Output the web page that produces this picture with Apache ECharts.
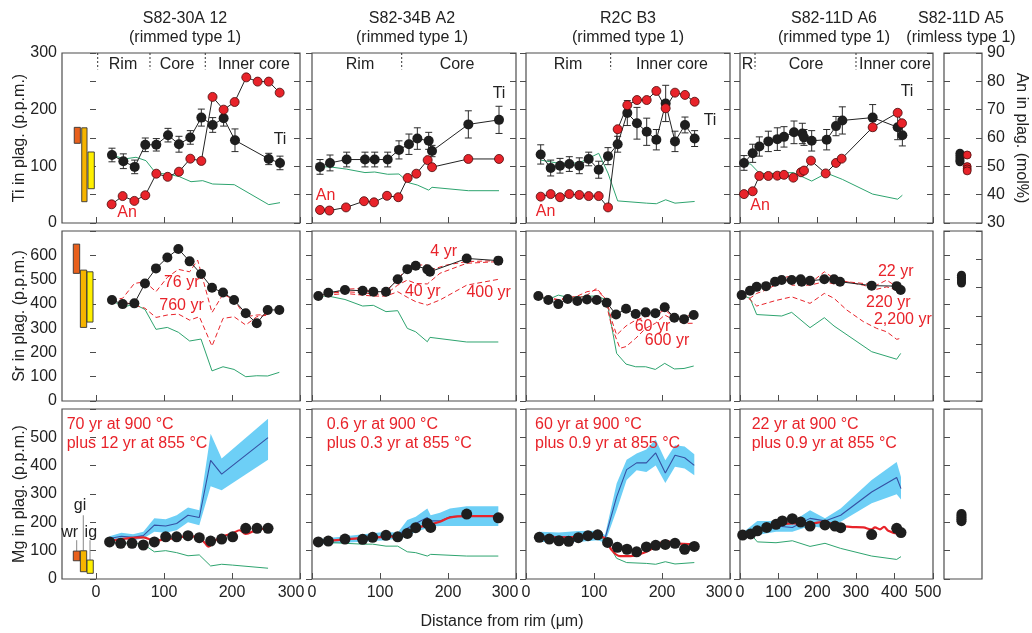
<!DOCTYPE html>
<html><head><meta charset="utf-8">
<script src="https://cdn.jsdelivr.net/npm/echarts@6/dist/echarts.min.js"></script>
<style>html,body{margin:0;padding:0;background:#fff}#c{width:1032px;height:633px}</style>
</head><body><div id="c"></div>
<script>
// ---------------- DATA ----------------
// Column 1: S82-30A 12
const p1Ti = [[23.5,120],[40.2,109],[56.9,99],[72.5,138],[88.7,138],[105.9,155],[122,139],[138.7,151],[154.9,186],[171.6,173],[187.7,185],[204.4,146],[254,113],[270.6,106]];
const p1TiErr = [12,13,12,12,11,12,14,12,15,13,14,20,10,12];
const p1An = [[23,36.6],[39.2,39.5],[56.4,37.8],[72.5,39.8],[88.7,47.4],[105.4,46.3],[122,48.1],[138.7,52.7],[154.9,51.9],[171.4,74.5],[187.7,70],[203.9,72.7],[221,81.4],[237.7,79.9],[254,79.9],[270.1,76]];
const p1TiEq = [[23.5,120],[41.7,113],[58.8,116],[73.5,110],[88.2,87.6],[105.4,86.5],[122.5,81.8],[139.7,72.9],[156.9,74.7],[171.6,68.8],[203.4,67.6],[254,32.4],[270.6,35.9]];
const p1Sr = [[23.5,416],[39.2,399],[56.4,402],[72,484],[88.2,546],[104.9,591],[121.1,626],[137.7,575],[154.4,523],[170.6,466],[186.8,447],[203,416],[220.2,361],[236.4,320],[252.5,375],[269.6,375]];
const p1SrErr = [5,5,5,8,10,8,6,8,6,6,6,6,6,6,6,6];
const p1SrEq = [[23.5,416],[39.2,386],[56.4,399],[72,377],[88.2,295],[104.9,303],[121.1,283],[137.7,247],[154.4,255],[170.6,124],[186.8,141],[203,130],[220.2,100],[236.4,104],[252.5,103],[269.6,118]];
const p1Sr76 = [[23,416],[39.2,423],[56.4,484],[72,491],[88.2,450],[104.9,509],[121.1,542],[137.7,532],[149.5,580],[170.6,364],[186.8,440],[203,416],[220.2,347],[236.4,354],[252.5,356]];
const p1Sr760 = [[23,416],[39.2,409],[56.4,395],[72,382],[88.2,344],[104.9,354],[121.1,358],[137.7,333],[152,347],[170.6,226],[186.8,340],[203,347],[220.2,313],[236.4,347],[252.5,354]];
const p1Mg = [[20,131],[36.3,126],[53,126],[69.6,120],[85.8,131],[102.5,149],[118.6,149],[135.3,153],[151.9,146],[168.6,134],[184.8,141],[201,149],[220.2,179],[236.8,179],[253,179]];
const p1MgFit = [[20,135],[53,145],[69.6,147],[85.8,135],[102.5,140],[118.6,145],[135.3,151],[151.9,145],[159.8,128],[165.7,114],[172.5,131],[184.8,149],[201,161],[211.3,172],[220,159],[236.8,174],[253,179]];
const p1MgX = [20,37.3,54.4,69.6,85.8,102.5,118.6,135.3,151.9,168.6,184.8,253];
const p1MgBlue = [143,151,147,153,190,187,196,225,217,419,370,499];
const p1MgUp = [151,163,158,167,214,211,225,252,243,513,425,566];
const p1MgLo = [135,141,137,143,167,163,172,200,190,327,313,421];
const p1MgEq = [[20,131],[36.3,128],[53,126],[69.6,123],[85.8,96],[102.5,100],[118.6,93],[135.3,82],[151.9,85],[168.6,46],[184.8,52],[201,49],[253,38]];
const p1Dividers = [2.5, 79.4, 160.7];
// crystal-size bars (x0, x1, low, high)
const barTi = [[-32,-23,140.6,168.8],[-21,-13.2,37.6,168],[-11.8,-2.5,60.5,125.3]];
const barSr = [[-33.4,-24,525.5,646],[-23,-13.7,303,539],[-13.2,-4.4,325,532]];
const barMg = [[-33.4,-23.5,64.4,98.6],[-23,-13.7,25.7,99.7],[-13.2,-4,20,66.9]];
const barColors = ['#e8601c','#f6b400','#fff000'];
const barLeaders = [[[-28.4,98],[-28.4,137]],[[-18.7,100],[-18.7,225]],[[-8.8,67],[-8.8,137]]];

// Column 2: S82-34B A2
const p2Ti = [[11.8,99],[26.5,106],[51,112],[77.9,112],[92.2,112],[111.3,112],[127.9,129],[142.6,139],[154.9,149],[171.6,145],[176.5,127],[229.9,174],[275,182]];
const p2TiErr = [13,14,13,13,13,13,16,18,19,15,10,24,24];
const p2An = [[11.8,34.6],[25.5,34.4],[50,35.5],[76.5,37.7],[91.2,37.3],[110.3,39.6],[126.9,39.1],[140.7,45.9],[153.4,47.4],[170.1,52.2],[176.5,49.7],[229.9,52.6],[275,52.6]];
const p2TiEq = [[11.8,99],[26.5,99],[51,95],[77.9,89],[92.2,90],[111.3,86],[127.9,86.5],[142.6,71],[154.9,67],[171.6,58],[176.5,63],[229.9,57],[275,57]];
const p2Sr = [[9.3,432],[24,446],[48.5,457],[74.5,454],[90.2,450],[108.8,450],[126,501],[140.2,543],[152.5,557],[169.6,542],[173.5,532],[227.5,587],[274,578]];
const p2SrErr = [8,8,8,8,8,8,10,12,12,12,12,12,14];
const p2SrEq = [[9.3,432],[24,432],[48.5,418],[74.5,391],[90.2,394],[108.8,368],[126,372],[140.2,299],[152.5,285],[169.6,244],[173.5,262],[227.5,243],[274,243]];
const p2Sr4 = [[9.3,432],[24,440],[48.5,460],[74.5,464],[90.2,446],[108.8,454],[126,498],[140.2,553],[152.5,560],[169.6,560],[173.5,539],[198,560],[227.5,574],[274,578]];
const p2Sr40 = [[9.3,432],[24,443],[48.5,450],[74.5,446],[90.2,440],[108.8,440],[126,477],[140.2,498],[152.5,484],[169.6,482],[188.2,526],[227.5,567],[274,574]];
const p2Sr400 = [[9.3,432],[24,436],[48.5,443],[74.5,436],[90.2,432],[108.8,432],[126,450],[140.2,427],[152.5,409],[169.6,395],[188.2,416],[227.5,477],[274,501]];
const p2Mg = [[9.3,131],[24,134],[48.5,141],[74.5,140],[89.2,147],[108.8,154],[126,149],[140.2,161],[152.5,181],[169.6,196],[174.5,182],[227.5,229],[274,216]];
const p2MgFit = [[9.3,131],[48.5,140],[108.8,149],[126,151],[140.2,161],[152.5,179],[169.6,190],[188.2,202],[202.9,217],[227.5,222],[274,222]];
const p2MgX = [9.3,48.5,108.8,126,140.2,152.5,169.6,174.5,188.2,202.9,227.5,274];
const p2MgBlue = [131,140,151,155,179,196,217,205,205,220,222,222];
const p2MgUp = [140,151,167,163,208,220,249,225,234,249,257,257];
const p2MgLo = [123,128,137,143,149,167,179,184,187,187,187,187];
const p2MgEq = [[9.3,131],[48.5,126],[74.5,123],[89.2,123],[108.8,116],[126,116],[140.2,96],[152.5,93],[169.6,81],[174.5,87],[227.5,81],[274,81]];
const p2Dividers = [131.9];

// Column 3: R2C B3
const p3X = [21.6,36.3,50,63.7,78.4,92.2,106.9,120.6,134.8,149,163.2,177.5,191.7,205.4,219.1,233.8,248];
const p3TiV = [121,97,101,104,101,113,94,118,139,194,176,161,147,211,144,173,149];
const p3TiErr = [17,14,13,13,14,12,15,15,14,22,28,24,18,32,18,14,14];
const p3AnV = [39.3,40.2,39.1,40.2,39.9,39.5,39.5,35.5,63.1,71.6,73.4,73.4,76.6,70.5,76,75.2,72.8];
const p3TiEq = [[21.6,111],[50,105],[78.4,106],[106.9,123],[120.6,88],[134.8,39],[177.5,35],[191.7,34],[205.4,41],[219.1,35],[248,38]];
const p3SrX = [18.1,32.8,47.5,61.3,75.5,89.7,104,118.6,132.4,147.1,161.3,176,190.2,204,218.1,232.4,246.6];
const p3SrV = [432,416,399,420,412,418,416,405,356,380,358,365,361,386,343,337,354];
const p3SrErr = [10,6,8,6,6,6,6,10,10,6,6,6,8,12,6,6,6];
const p3SrEq = [[18.1,432],[32.8,418],[47.5,436],[61.3,427],[75.5,427],[89.7,432],[104,432],[118.6,416],[126,306],[133.3,196],[147.1,152],[161.3,141],[176,141],[190.2,130],[204,155],[218.1,132],[232.4,134],[246.6,144]];
const p3Sr60 = [[18.1,432],[47.5,418],[75.5,432],[89.7,450],[104,457],[118.6,416],[126,333],[133.3,272],[147.1,309],[161.3,333],[176,347],[190.2,354],[204,375],[218.1,344],[246.6,354]];
const p3Sr600 = [[18.1,432],[47.5,416],[75.5,423],[89.7,436],[104,464],[116.2,423],[126,306],[138.2,217],[147.1,224],[161.3,258],[176,299],[190.2,320],[204,354],[218.1,333],[232.4,320],[246.6,320]];
const p3MgPtX = [19.6,34.3,48.5,62.7,77,91.2,105.4,120,134.3,148.5,162.7,177,190.7,204.9,219.1,233.3,247.5];
const p3MgPtV = [147,141,135,133,146,153,156,129,112,105,96,113,119,122,126,105,115];
const p3MgFit = [[19.6,149],[48.5,147],[77,149],[105.4,151],[116.2,143],[126,102],[138.2,81],[153,81],[177,96],[190.7,115],[204.9,135],[219.1,126],[247.5,123]];
const p3MgX = [19.6,48.5,77,105.4,116.2,133.3,148,162.7,177,190.7,204.9,219.1,233.3,247.5];
const p3MgBlue = [151,149,151,155,143,290,386,410,410,445,374,437,428,401];
const p3MgUp = [167,164,169,170,155,337,421,443,457,492,419,472,468,440];
const p3MgLo = [131,131,131,137,128,243,349,384,378,401,339,396,390,366];
const p3MgEq = [[19.6,149],[48.5,147],[77,149],[105.4,149],[117.6,137],[133.3,73],[148,58],[177,55],[190.7,52],[204.9,61],[219.1,53],[247.5,58]];
const p3Dividers = [124.5];

// Column 4: S82-11D A6
const p4X = [10.4,32.8,50.1,73.4,96.7,114,139.9,161.5,165.8,185.7,224.5,248.7,265.1,343.7,408.5,420.6];
const p4TiV = [106,123,135,144,148,152,160,158,151,145,147,171,181,186,169,155];
const p4TiErr = [13,16,17,18,20,18,20,18,14,18,18,17,24,23,22,19];
const p4An = [[10.4,40.2],[32.8,41.2],[50.1,46.6],[73.4,46.6],[96.7,46.7],[114,47],[138.1,46],[158,47.9],[165.8,48.5],[183.9,52],[222,47.5],[248.7,51.2],[263.4,52.7],[343.7,63.8],[408.5,68.9],[419.7,65.2]];
const p4TiEq = [[10.4,106],[27.6,104],[50.1,88],[73.4,87],[96.7,88],[138.1,89],[185.7,74],[224.5,88],[265.1,77],[343.7,51],[408.5,42],[420.6,49]];
const p4SrX = [4.3,25.9,43.2,67.4,90.7,108,133.9,157.2,159.8,181.4,218.5,243.5,259.1,341.1,405.9,416.3];
const p4SrV = [436,454,470,473,491,498,498,501,491,495,501,501,491,475,473,457];
const p4SrErr = [8,8,8,8,8,8,8,8,8,8,8,8,8,8,8,8];
const p4Sr22 = [[4.3,436],[25.9,450],[43.2,464],[67.4,477],[90.7,498],[124.4,512],[133.9,505],[157.2,498],[181.4,484],[218.5,532],[243.5,505],[276.3,491],[319.5,484],[354.1,477],[380,498],[405.9,470],[416.3,460]];
const p4Sr220 = [[4.3,436],[25.9,423],[43.2,443],[67.4,457],[90.7,477],[124.4,498],[133.9,477],[157.2,477],[181.4,477],[218.5,491],[243.5,482],[276.3,491],[319.5,477],[354.1,460],[380,470],[405.9,457],[416.3,450]];
const p4Sr2200 = [[4.3,436],[25.9,418],[43.2,391],[67.4,402],[90.7,413],[133.9,429],[157.2,416],[181.4,402],[218.5,443],[243.5,423],[276.3,375],[319.5,327],[354.1,299],[380,285],[405.9,254],[416.3,258]];
const p4SrEq = [[4.3,436],[25.9,423],[43.2,356],[108,350],[133.9,365],[181.4,302],[218.5,343],[243.5,309],[341.1,203],[405.9,172],[416.3,196]];
const p4Mg = [[6.9,155],[27.6,159],[44.9,170],[69.1,182],[93.3,193],[109.7,205],[135.6,213],[157.2,201],[181.4,187],[220.2,191],[246.1,187],[260.8,181],[341.1,157],[405.9,179],[417.1,164]];
const p4MgFit = [[6.9,155],[44.9,173],[93.3,190],[135.6,196],[181.4,196],[220.2,202],[246.1,190],[285,184],[319.5,182],[341.1,175],[349.7,182],[362.7,175],[373,184],[384.2,170],[405.9,161],[417.1,161]];
const p4MgX = [6.9,44.9,93.3,135.6,181.4,220.2,260.8,341.1,405.9,417.1];
const p4MgBlue = [155,179,187,182,214,205,225,307,358,319];
const p4MgUp = [163,205,205,202,243,214,249,349,413,360];
const p4MgLo = [149,155,167,167,187,179,202,267,299,281];
const p4MgEq = [[6.9,155],[27.6,159],[44.9,131],[93.3,128],[135.6,135],[181.4,115],[220.2,126],[260.8,108],[341.1,81],[405.9,69],[417.1,79]];
const p4Dividers = [38.9, 300.5];

// Column 5: S82-11D A5 (rimless)
const p5Ti = [[4.2,123],[4.2,119],[4.2,115],[4.2,111],[4.2,108]];
const p5An = [[6.1,54],[6.1,49.9],[6.1,49.1],[6.1,48.4]];
const p5Sr = [[4.6,518],[4.6,510],[4.6,502],[4.6,494],[4.6,486]];
const p5Mg = [[4.6,229],[4.6,222],[4.6,216],[4.6,210],[4.6,204]];

// Axis tick labels
const xTicks = [[0,100,200,300],[0,100,200,300],[0,100,200,300],[0,100,200,300,400,500],[]];
const titles = [['S82-30A 12','(rimmed type 1)'],['S82-34B A2','(rimmed type 1)'],['R2C B3','(rimmed type 1)'],['S82-11D A6','(rimmed type 1)'],['S82-11D A5','(rimless type 1)']];

// ---------------- LAYOUT ----------------
const FONT = '"Liberation Sans", Arial, Helvetica, sans-serif';
const RED = '#e8232a', GREEN = '#2ea46f', BLUE = '#3550a3', BAND = '#6dcff6', INK = '#1e1e1e', FR = '#4d4d4d';
const COLS = [{l:62,w:238,min:-50,max:300,pad:18},{l:312,w:204,min:0,max:300,pad:22},{l:526,w:204,min:0,max:300,pad:22},{l:740,w:193,min:0,max:500,pad:10},{l:944,w:38,min:0,max:10,pad:0}];
const ROWS = [
  {t:53,h:170,max:300,int:50,fmt:v=>v%100===0?String(v):''},
  {t:231,h:170,max:700,int:100,fmt:v=>v>=700?'':String(v)},
  {t:409,h:170,max:600,int:100,fmt:v=>v>=600?'':String(v)}];

const grid=[], xAxis=[], yAxis=[], S=[];
for (let r=0;r<3;r++) for (let c=0;c<5;c++){
  const g=r*5+c, C=COLS[c], R=ROWS[r];
  grid.push({left:C.l, top:R.t, width:C.w, height:R.h, show:true, borderColor:FR, borderWidth:1.2, backgroundColor:'transparent'});
  xAxis.push({type:'value', gridIndex:g, min:C.min, max:C.max, axisLine:{show:false}, splitLine:{show:false},
    axisTick:{show:xTicks[c].length>0, inside:true, length:6, lineStyle:{color:FR,width:1}, customValues:xTicks[c]},
    axisLabel:{show:r===2&&xTicks[c].length>0, customValues:xTicks[c], showMaxLabel:true, showMinLabel:true, hideOverlap:false,
      color:'#222', fontSize:16, fontFamily:FONT, margin:6,
      formatter:(v)=> v===C.max ? '{m|'+v+'}' : String(v),
      rich:{m:{padding:[0,C.pad,0,0], fontSize:16, fontFamily:FONT, color:'#222'}}}});
  yAxis.push({type:'value', gridIndex:g, min:0, max:R.max, interval:R.int, axisLine:{show:false}, splitLine:{show:false},
    axisTick:{show:true, inside:c===4, length:6, lineStyle:{color:FR,width:1}},
    axisLabel:{show:c===0, color:'#222', fontSize:16, fontFamily:FONT, margin:5, formatter:R.fmt}});
}
for (let c=0;c<5;c++){
  yAxis.push({type:'value', gridIndex:c, position:'right', min:30, max:90, interval:10, axisLine:{show:false}, splitLine:{show:false},
    axisTick:{show:true, inside:true, length:6, lineStyle:{color:FR,width:1}},
    axisLabel:{show:c===4, color:'#222', fontSize:16, fontFamily:FONT, margin:5}});
}
yAxis.push({type:'value', gridIndex:9, position:'right', min:0, max:6, interval:1, axisLine:{show:false}, splitLine:{show:false},
  axisTick:{show:true, inside:true, length:6, lineStyle:{color:FR,width:1}}, axisLabel:{show:false}});
const AN = c => 15+c;

// ---------------- SERIES HELPERS ----------------
const zip = (xs, ys) => xs.map((x,i)=>[x, ys[i]]);
const DASH = [5,3];
function ln(g, data, color, width, dash, smooth, yIdx, z){
  S.push({type:'line', xAxisIndex:g, yAxisIndex: yIdx===undefined?g:yIdx, data, symbol:'none', showSymbol:false, smooth:smooth||false,
    lineStyle:{color, width, type:dash||'solid'}, z:z||2, silent:true, animation:false});
}
function pts(g, data, fill, border, size, connect, yIdx, z){
  S.push({type: connect?'line':'scatter', xAxisIndex:g, yAxisIndex: yIdx===undefined?g:yIdx, data, symbol:'circle', symbolSize:size, showSymbol:true, showAllSymbol:true,
    itemStyle:{color:fill, borderColor:border||fill, borderWidth:border?0.8:0, opacity:1}, lineStyle:{color:'#222', width:1}, z:z||6, silent:true, animation:false});
}
function errRender(params, api){
  const x=api.value(0), y=api.value(1), e=api.value(2);
  const a=api.coord([x,y+e]), b=api.coord([x,y-e]), hw=3.5;
  const st={stroke:'#2a2a2a', lineWidth:1};
  return {type:'group', children:[
    {type:'line', shape:{x1:a[0],y1:a[1],x2:b[0],y2:b[1]}, style:st},
    {type:'line', shape:{x1:a[0]-hw,y1:a[1],x2:a[0]+hw,y2:a[1]}, style:st},
    {type:'line', shape:{x1:b[0]-hw,y1:b[1],x2:b[0]+hw,y2:b[1]}, style:st}]};
}
function errs(g, data, e){
  S.push({type:'custom', xAxisIndex:g, yAxisIndex:g, data:data.map((p,i)=>[p[0],p[1],e[i]]), encode:{x:0,y:1}, renderItem:errRender, z:4, silent:true, animation:false});
}
function band(g, xs, up, lo){
  S.push({type:'custom', xAxisIndex:g, yAxisIndex:g, data:[[xs[0], lo[0]]], encode:{x:0,y:1}, z:1, silent:true, animation:false,
    renderItem:(params, api)=>{
      const p=[]; xs.forEach((x,i)=>p.push(api.coord([x,up[i]])));
      for (let i=xs.length-1;i>=0;i--) p.push(api.coord([xs[i],lo[i]]));
      return {type:'polygon', shape:{points:p}, style:{fill:BAND}};
    }});
}
function rects(g, data){
  S.push({type:'custom', xAxisIndex:g, yAxisIndex:g, data, encode:{x:[0,1], y:[2,3]}, z:3, silent:true, animation:false,
    renderItem:(params, api)=>{
      const a=api.coord([api.value(0), api.value(3)]), b=api.coord([api.value(1), api.value(2)]);
      return {type:'rect', shape:{x:a[0], y:a[1], width:b[0]-a[0], height:b[1]-a[1]}, style:{fill:barColors[params.dataIndex], stroke:'#333', lineWidth:0.9}};
    }});
}
function dividers(g, xs){
  xs.forEach(x=>ln(g, [[x,300],[x,271]], '#333', 1, [2,2], false, undefined, 3));
}

// ---------------- BUILD ----------------
// Row 1 (Ti / An)
const tiPanels = [
  {g:0, ti:p1Ti, err:p1TiErr, an:p1An, eq:p1TiEq, div:p1Dividers},
  {g:1, ti:p2Ti, err:p2TiErr, an:p2An, eq:p2TiEq, div:p2Dividers},
  {g:2, ti:zip(p3X,p3TiV), err:p3TiErr, an:zip(p3X,p3AnV), eq:p3TiEq, div:p3Dividers},
  {g:3, ti:zip(p4X,p4TiV), err:p4TiErr, an:p4An, eq:p4TiEq, div:p4Dividers}];
tiPanels.forEach(P=>{
  ln(P.g, P.eq, GREEN, 1, 'solid', false, undefined, 2);
  dividers(P.g, P.div);
  errs(P.g, P.ti, P.err);
  pts(P.g, P.ti, INK, null, 10, true, undefined, 6);
  pts(P.g, P.an, RED, '#4a0a0a', 9, true, AN(P.g), 7);
});
rects(0, barTi);
pts(4, p5Ti, INK, null, 9, false, undefined, 6);
pts(4, p5An, RED, '#4a0a0a', 8, false, AN(4), 7);

// Row 2 (Sr)
ln(5, p1SrEq, GREEN, 1); ln(5, p1Sr76, RED, 1, DASH, false, undefined, 3); ln(5, p1Sr760, RED, 1, DASH, false, undefined, 3);
errs(5, p1Sr, p1SrErr); pts(5, p1Sr, INK, null, 10, true); rects(5, barSr);
ln(6, p2SrEq, GREEN, 1); ln(6, p2Sr4, RED, 1, DASH, false, undefined, 3); ln(6, p2Sr40, RED, 1, DASH, false, undefined, 3); ln(6, p2Sr400, RED, 1, DASH, false, undefined, 3);
errs(6, p2Sr, p2SrErr); pts(6, p2Sr, INK, null, 10, true);
ln(7, p3SrEq, GREEN, 1); ln(7, p3Sr60, RED, 1, DASH, false, undefined, 3); ln(7, p3Sr600, RED, 1, DASH, false, undefined, 3);
errs(7, zip(p3SrX,p3SrV), p3SrErr); pts(7, zip(p3SrX,p3SrV), INK, null, 10, true);
ln(8, p4SrEq, GREEN, 1); ln(8, p4Sr22, RED, 1, DASH, false, undefined, 3); ln(8, p4Sr220, RED, 1, DASH, false, undefined, 3); ln(8, p4Sr2200, RED, 1, DASH, false, undefined, 3);
errs(8, zip(p4SrX,p4SrV), p4SrErr); pts(8, zip(p4SrX,p4SrV), INK, null, 10, true);
pts(9, p5Sr, INK, null, 9, false);

// Row 3 (Mg)
const mgPanels = [
  {g:10, pts:p1Mg, fit:p1MgFit, x:p1MgX, b:p1MgBlue, up:p1MgUp, lo:p1MgLo, eq:p1MgEq},
  {g:11, pts:p2Mg, fit:p2MgFit, x:p2MgX, b:p2MgBlue, up:p2MgUp, lo:p2MgLo, eq:p2MgEq},
  {g:12, pts:zip(p3MgPtX,p3MgPtV), fit:p3MgFit, x:p3MgX, b:p3MgBlue, up:p3MgUp, lo:p3MgLo, eq:p3MgEq},
  {g:13, pts:p4Mg, fit:p4MgFit, x:p4MgX, b:p4MgBlue, up:p4MgUp, lo:p4MgLo, eq:p4MgEq}];
mgPanels.forEach(P=>{
  band(P.g, P.x, P.up, P.lo);
  ln(P.g, P.eq, GREEN, 1, 'solid', false, undefined, 2);
  ln(P.g, zip(P.x, P.b), BLUE, 1.1, 'solid', false, undefined, 3);
  ln(P.g, P.fit, RED, 2.2, 'solid', 0.35, undefined, 4);
  pts(P.g, P.pts, INK, null, 11, false, undefined, 6);
});
rects(10, barMg);
barLeaders.forEach(d=>ln(10, d, '#888', 1, 'solid', false, undefined, 2));
pts(14, p5Mg, INK, null, 10, false);

// ---------------- TEXT ----------------
function T(x,y,text,o){ o=o||{}; const al=o.align||'center';
  return {type:'text', x, y, rotation:o.rot||0, z:100, silent:true,
    style:{text, x:0, y:0, fill:o.color||'#222', font:(o.size||16)+'px '+FONT, align:al, verticalAlign:'middle', textAlign:al, textVerticalAlign:'middle'}}; }
const G = [];
const titleX = [185, 412, 628, 834, 961];
titles.forEach((t,i)=>{ G.push(T(titleX[i], 19, t[0])); G.push(T(titleX[i], 38, t[1])); });
G.push(T(20, 138, 'Ti in plag. (p.p.m.)', {rot:Math.PI/2}));
G.push(T(20, 316, 'Sr in plag. (p.p.m.)', {rot:Math.PI/2}));
G.push(T(20, 494, 'Mg in plag. (p.p.m.)', {rot:Math.PI/2}));
G.push(T(1021, 138, 'An in plag. (mol%)', {rot:-Math.PI/2}));
G.push(T(502, 622, 'Distance from rim (\u03bcm)'));
// row 1 section labels
[[123,'Rim'],[177,'Core'],[254,'Inner core'],[360,'Rim'],[457,'Core'],[568,'Rim'],[672,'Inner core'],[747.5,'R'],[806,'Core'],[895,'Inner core']]
  .forEach(a=>G.push(T(a[0], 65, a[1])));
[[280,140],[499,94],[710,121],[907,92]].forEach(a=>G.push(T(a[0],a[1],'Ti')));
[[127,213],[325.5,195.5],[545.5,212],[760,206]].forEach(a=>G.push(T(a[0],a[1],'An',{color:RED})));
// row 2 model labels
[[181.7,282.7,'76 yr'],[181.5,306,'760 yr'],[443.7,252,'4 yr'],[422.7,291.7,'40 yr'],[488.7,292.7,'400 yr'],
 [652.5,326.7,'60 yr'],[667,341,'600 yr'],[895.7,271.7,'22 yr'],[888.3,302.5,'220 yr'],[902.8,319.7,'2,200 yr']]
  .forEach(a=>G.push(T(a[0],a[1],a[2],{color:RED})));
// row 3 model texts
[[66.7,'70 yr at 900 \u00b0C','plus 12 yr at 855 \u00b0C'],[326.7,'0.6 yr at 900 \u00b0C','plus 0.3 yr at 855 \u00b0C'],
 [535,'60 yr at 900 \u00b0C','plus 0.9 yr at 855 \u00b0C'],[751.7,'22 yr at 900 \u00b0C','plus 0.9 yr at 855 \u00b0C']]
  .forEach(a=>{ G.push(T(a[0],425,a[1],{color:RED,align:'left'})); G.push(T(a[0],443.5,a[2],{color:RED,align:'left'})); });
G.push(T(69.7,532.5,'wr')); G.push(T(80,506,'gi')); G.push(T(90.8,533,'ig'));

const chart = echarts.init(document.getElementById('c'), null, {renderer:'canvas'});
chart.setOption({animation:false, backgroundColor:'#fff', textStyle:{fontFamily:FONT}, grid, xAxis, yAxis, series:S, graphic:G});
</script></body></html>
